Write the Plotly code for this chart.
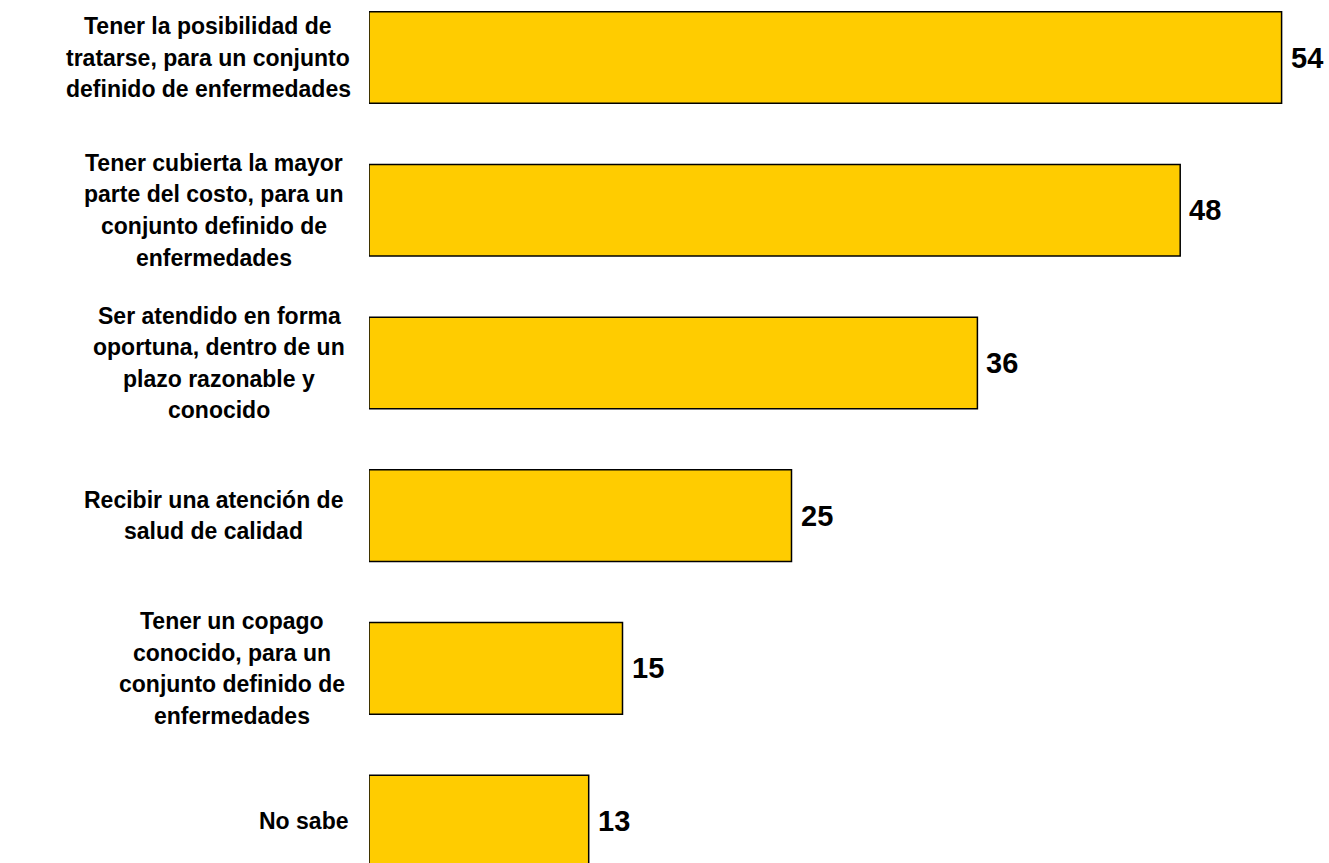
import plotly.graph_objects as go

categories = [
    ["Tener la posibilidad de", "tratarse, para un conjunto", "definido de enfermedades"],
    ["Tener cubierta la mayor", "parte del costo, para un", "conjunto definido de", "enfermedades"],
    ["Ser atendido en forma", "oportuna, dentro de un", "plazo razonable y", "conocido"],
    ["Recibir una atención de", "salud de calidad"],
    ["Tener un copago", "conocido, para un", "conjunto definido de", "enfermedades"],
    ["No sabe"],
]
values = [54, 48, 36, 25, 15, 13]

# reference block centers (px) of each label, right edge at 350 px
ref_centers = [191, 197, 203, 197, 217, 298]

FONT = "Liberation Sans, Arial, sans-serif"
LEFT = 369
RIGHT_EDGE = 350
K = 0.89
LABEL_SIZE = 23
LINE_GAP = 31.6

ypos = list(range(len(values)))

fig = go.Figure()
fig.add_trace(go.Bar(
    x=values, y=ypos, orientation="h", width=0.6,
    marker=dict(color="#FFCC00", line=dict(color="#000000", width=1.5)),
    hoverinfo="skip",
))

annotations = []
for i, lines in enumerate(categories):
    n = len(lines)
    center = RIGHT_EDGE - K * (RIGHT_EDGE - ref_centers[i])
    for j, line in enumerate(lines):
        annotations.append(dict(
            text=line, xref="paper", x=0, xanchor="center", xshift=center - LEFT,
            yref="y", y=ypos[i], yanchor="middle", yshift=-(j - (n - 1) / 2) * LINE_GAP,
            showarrow=False,
            font=dict(family=FONT, size=LABEL_SIZE, color="#000000", weight="bold"),
        ))
    annotations.append(dict(
        text=str(values[i]), xref="x", x=values[i], xanchor="left", xshift=7,
        yref="y", y=ypos[i], yanchor="middle",
        showarrow=False,
        font=dict(family=FONT, size=29, color="#000000", weight="bold"),
    ))

fig.update_layout(
    width=1329, height=863,
    margin=dict(l=LEFT, r=0, t=0, b=0),
    paper_bgcolor="white", plot_bgcolor="white",
    showlegend=False,
    xaxis=dict(range=[0, 960 / 16.9], visible=False, showgrid=False, zeroline=False),
    yaxis=dict(range=[5.275, -0.377], visible=False, showgrid=False, zeroline=False),
    annotations=annotations,
)

fig.write_html("out.html")
